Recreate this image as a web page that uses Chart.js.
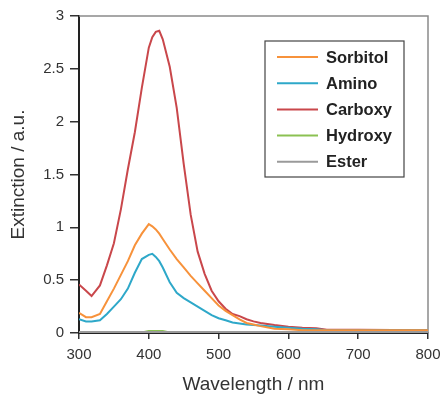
<!DOCTYPE html>
<html>
<head>
<meta charset="utf-8">
<script src="https://cdn.jsdelivr.net/npm/chart.js@4/dist/chart.umd.min.js"></script>
<style>
  html, body { margin: 0; padding: 0; background: #fff; }
  #wrap { width: 443px; height: 394px; }
</style>
</head>
<body>
<div id="wrap"><canvas id="extChart" width="443" height="394"></canvas></div>
<script>
// wavelength grid (nm)
const wavelengths = [300, 310, 318, 330, 340, 350, 360, 370, 380, 390, 400, 405, 410, 415, 420, 430, 440, 450, 460, 470, 480, 490, 500, 510, 520, 530, 540, 550, 560, 580, 600, 620, 640, 655, 700, 750, 800];

const sorbitol = [0.19, 0.15, 0.15, 0.18, 0.30, 0.42, 0.55, 0.68, 0.83, 0.94, 1.03, 1.01, 0.98, 0.94, 0.89, 0.79, 0.70, 0.62, 0.54, 0.47, 0.40, 0.33, 0.26, 0.21, 0.17, 0.13, 0.095, 0.08, 0.065, 0.04, 0.035, 0.025, 0.025, 0.025, 0.025, 0.025, 0.025];
const amino = [0.13, 0.11, 0.11, 0.12, 0.18, 0.25, 0.32, 0.42, 0.57, 0.70, 0.74, 0.75, 0.72, 0.68, 0.62, 0.48, 0.38, 0.33, 0.29, 0.25, 0.21, 0.17, 0.14, 0.12, 0.10, 0.09, 0.08, 0.075, 0.07, 0.06, 0.05, 0.04, 0.035, 0.025, 0.025, 0.025, 0.025];
const carboxy = [0.46, 0.40, 0.35, 0.45, 0.64, 0.85, 1.17, 1.55, 1.90, 2.32, 2.70, 2.80, 2.85, 2.86, 2.78, 2.52, 2.13, 1.60, 1.12, 0.77, 0.56, 0.40, 0.30, 0.23, 0.18, 0.16, 0.13, 0.11, 0.095, 0.075, 0.06, 0.05, 0.045, 0.03, 0.03, 0.028, 0.025];
const hydroxy = [0.005, 0.005, 0.005, 0.005, 0.005, 0.005, 0.005, 0.005, 0.005, 0.005, 0.02, 0.02, 0.02, 0.02, 0.02, 0.005, 0.005, 0.005, 0.005, 0.005, 0.005, 0.005, 0.005, 0.005, 0.005, 0.005, 0.005, 0.005, 0.005, 0.005, 0.005, 0.005, 0.005, 0.005, 0.005, 0.005, 0.005];
const ester = [0.01, 0.01, 0.01, 0.01, 0.01, 0.01, 0.01, 0.01, 0.01, 0.01, 0.01, 0.01, 0.01, 0.01, 0.01, 0.01, 0.01, 0.01, 0.01, 0.01, 0.01, 0.01, 0.01, 0.01, 0.01, 0.01, 0.01, 0.01, 0.01, 0.01, 0.01, 0.01, 0.01, 0.01, 0.01, 0.01, 0.01];

const seriesNames = ["Sorbitol", "Amino", "Carboxy", "Hydroxy", "Ester"];
const seriesColors = ["#f7923b", "#2ea8c9", "#c9474b", "#8bc152", "#9a9a9a"];
const seriesValues = [sorbitol, amino, carboxy, hydroxy, ester];

const xTicks = [300, 400, 500, 600, 700, 800];
const yTicks = [0, 0.5, 1, 1.5, 2, 2.5, 3];

const toPoints = (vals) => wavelengths.map((w, i) => ({ x: w, y: vals[i] }));

// draw order: hydroxy/ester underneath, carboxy on top
const drawOrder = [4, 3, 0, 1, 2];
const datasets = drawOrder.map((k) => ({
    label: seriesNames[k],
    data: toPoints(seriesValues[k]),
    borderColor: seriesColors[k],
    borderWidth: 2,
    pointRadius: 0,
    tension: 0,
    fill: false
}));

// gray frame on top/right of the plot
const framePlugin = {
    id: "frame",
    beforeDatasetsDraw(chart) {
        const { ctx, chartArea: a } = chart;
        ctx.save();
        ctx.strokeStyle = "#8a8a8a";
        ctx.lineWidth = 1.5;
        ctx.beginPath();
        ctx.moveTo(a.left, a.top);
        ctx.lineTo(a.right, a.top);
        ctx.lineTo(a.right, a.bottom);
        ctx.stroke();
        ctx.restore();
    }
};

// boxed legend inside the plot
const boxLegend = {
    id: "boxLegend",
    afterDraw(chart) {
        const { ctx, chartArea: a } = chart;
        const left = a.left + 186, top = a.top + 25;
        ctx.save();
        ctx.fillStyle = "#fff";
        ctx.fillRect(left, top, 139, 136);
        ctx.strokeStyle = "#444";
        ctx.lineWidth = 1.2;
        ctx.strokeRect(left, top, 139, 136);
        ctx.font = "bold 16.5px 'Liberation Sans', Arial, sans-serif";
        ctx.textBaseline = "middle";
        seriesNames.forEach((name, i) => {
            const y = top + 16 + i * 26.2;
            ctx.strokeStyle = seriesColors[i];
            ctx.lineWidth = 2;
            ctx.beginPath();
            ctx.moveTo(left + 12, y);
            ctx.lineTo(left + 53, y);
            ctx.stroke();
            ctx.fillStyle = "#222";
            ctx.fillText(name, left + 61, y + 1);
        });
        ctx.restore();
    }
};

const tickFont = { size: 15, family: "'Liberation Sans', Arial, sans-serif" };
const titleFont = { size: 19, family: "'Liberation Sans', Arial, sans-serif" };

const config = {
    type: "line",
    data: { datasets },
    options: {
        responsive: false,
        animation: false,
        layout: { padding: { left: 0, top: 16, right: 15, bottom: 0 } },
        plugins: { legend: { display: false }, tooltip: { enabled: false } },
        scales: {
            x: {
                type: "linear",
                min: 300,
                max: 800,
                afterBuildTicks: (s) => { s.ticks = xTicks.map((v) => ({ value: v })); },
                afterFit: (s) => { s.height = 61; s.paddingLeft = 0; s.paddingRight = 0; },
                grid: { drawOnChartArea: false, tickLength: 6, tickColor: "#333", lineWidth: 1.5 },
                border: { color: "#222", width: 2 },
                ticks: { color: "#333", font: tickFont, padding: 7, maxRotation: 0, callback: (v) => String(v) },
                title: { display: true, text: "Wavelength / nm", color: "#333", font: titleFont, padding: { top: 0, bottom: -2 } }
            },
            y: {
                type: "linear",
                min: 0,
                max: 3,
                afterBuildTicks: (s) => { s.ticks = yTicks.map((v) => ({ value: v })); },
                afterFit: (s) => { s.width = 79; s.paddingTop = 0; s.paddingBottom = 0; },
                grid: { drawOnChartArea: false, tickLength: 9, tickColor: "#333", lineWidth: 1.5 },
                border: { color: "#222", width: 2 },
                ticks: { color: "#333", font: tickFont, padding: 6, callback: (v) => String(v) },
                title: { display: true, text: "Extinction / a.u.", color: "#333", font: titleFont, padding: { top: 7, bottom: 0 } }
            }
        }
    },
    plugins: [framePlugin, boxLegend]
};

new Chart(document.getElementById("extChart"), config);
</script>
</body>
</html>
